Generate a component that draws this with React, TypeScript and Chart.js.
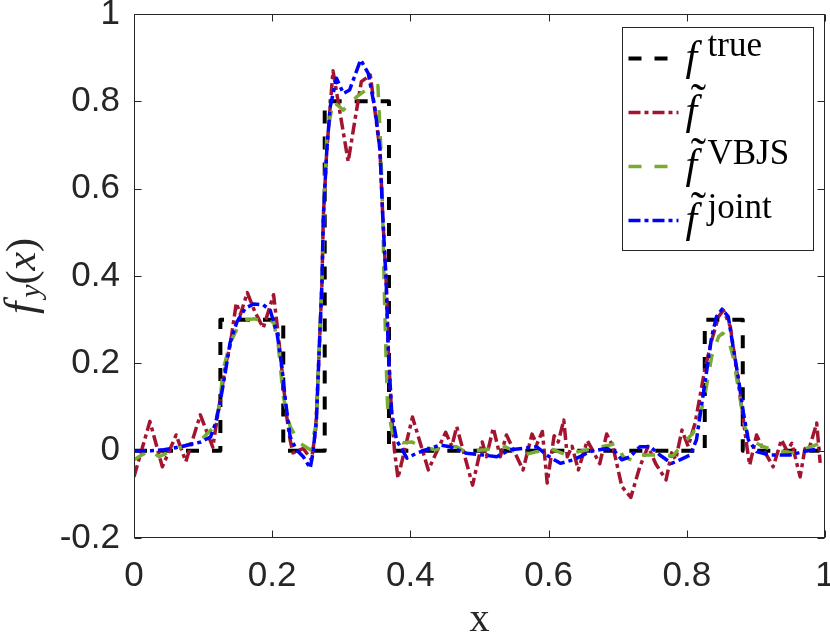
import { useEffect, useRef } from "react"
import { Chart, registerables } from "chart.js"

Chart.register(...registerables)

// tick values
const xTicks = [0, 0.2, 0.4, 0.6, 0.8, 1]
const yTicks = [-0.2, 0, 0.2, 0.4, 0.6, 0.8, 1]

// f^true (piecewise constant)
const trueX = [0, 0.125, 0.125, 0.216, 0.216, 0.276, 0.276, 0.369, 0.369, 0.826, 0.826, 0.881, 0.881, 0.992]
const trueY = [0, 0, 0.3, 0.3, 0, 0, 0.8, 0.8, 0, 0, 0.3, 0.3, 0, 0]

// f~ (noisy reconstruction)
const rawX = [
  0, 0.023, 0.041, 0.061, 0.075, 0.096, 0.114, 0.12, 0.127, 0.133, 0.139, 0.148, 0.154, 0.164,
  0.175, 0.187, 0.202, 0.208, 0.216, 0.221, 0.226, 0.23, 0.245, 0.257, 0.263, 0.268, 0.272,
  0.274, 0.279, 0.288, 0.31, 0.32, 0.329, 0.342, 0.356, 0.36, 0.365, 0.368, 0.373, 0.377,
  0.382, 0.403, 0.426, 0.451, 0.460, 0.467, 0.49, 0.504, 0.51, 0.52, 0.53, 0.539, 0.563,
  0.576, 0.583, 0.591, 0.598, 0.608, 0.614, 0.622, 0.627, 0.634, 0.643, 0.656, 0.664, 0.674,
  0.684, 0.693, 0.706, 0.719, 0.732, 0.744, 0.755, 0.77, 0.778, 0.784, 0.793, 0.802, 0.812,
  0.819, 0.826, 0.836, 0.846, 0.853, 0.863, 0.872, 0.88, 0.887, 0.891, 0.901, 0.91, 0.925,
  0.937, 0.945, 0.952, 0.964, 0.971, 0.978, 0.988, 0.993,
]
const rawY = [
  -0.06, 0.067, -0.037, 0.036, -0.025, 0.082, 0.008, 0.07, 0.14, 0.2, 0.24, 0.338, 0.312, 0.362,
  0.318, 0.281, 0.357, 0.276, 0.155, 0.078, 0.024, -0.005, 0.005, -0.021, 0.05, 0.23, 0.384,
  0.536, 0.688, 0.87, 0.662, 0.76, 0.845, 0.86, 0.688, 0.536, 0.384, 0.23, 0.078, 0.0,
  -0.063, 0.077, -0.044, 0.042, 0.01, 0.055, -0.079, 0.02, -0.014, 0.052, -0.014, 0.036, -0.044,
  0.038, 0.015, 0.044, -0.074, 0.034, 0.02, 0.07, -0.014, 0.01, -0.044, 0.023, 0.0, -0.03,
  0.038, 0.01, -0.082, -0.107, -0.037, 0.01, -0.03, -0.067, -0.005, -0.02, 0.047, 0.01, 0.063,
  0.124, 0.185, 0.253, 0.307, 0.322, 0.284, 0.185, 0.093, 0.009, -0.033, 0.036, 0.005, -0.037,
  0.025, 0.0, 0.017, -0.06, 0.005, 0.01, 0.063, -0.028,
]

// f~^VBJS
const vbjsX = [
  0, 0.024, 0.036, 0.058, 0.077, 0.097, 0.116, 0.124, 0.129, 0.139, 0.153, 0.163, 0.175, 0.187,
  0.202, 0.209, 0.216, 0.226, 0.24, 0.255, 0.264, 0.268, 0.272, 0.275, 0.279, 0.288, 0.303,
  0.322, 0.339, 0.353, 0.357, 0.36, 0.362, 0.365, 0.367, 0.375, 0.389, 0.402, 0.416, 0.436,
  0.45, 0.467, 0.479, 0.508, 0.537, 0.563, 0.588, 0.602, 0.626, 0.641, 0.665, 0.689, 0.698,
  0.708, 0.723, 0.732, 0.761, 0.78, 0.795, 0.809, 0.824, 0.836, 0.846, 0.852, 0.86, 0.867,
  0.875, 0.884, 0.891, 0.911, 0.93, 0.959, 0.973, 0.993,
]
const vbjsY = [
  -0.021, 0.002, -0.014, 0.002, 0.013, 0.025, 0.055, 0.108, 0.185, 0.246, 0.292, 0.3, 0.302, 0.295,
  0.295, 0.238, 0.124, 0.055, 0.017, 0.002, 0.063, 0.23, 0.384, 0.56, 0.72, 0.8, 0.78,
  0.81, 0.83, 0.836, 0.7, 0.536, 0.38, 0.2, 0.1, 0.032, 0.018, 0.02, 0.009, 0.002,
  0.01, 0.009, -0.002, 0.002, 0.009, -0.01, 0.0, 0.005, -0.01, -0.003, 0.005, 0.013, 0.017,
  -0.014, -0.023, -0.01, -0.01, -0.012, 0.017, 0.04, 0.108, 0.215, 0.261, 0.269, 0.257, 0.215,
  0.139, 0.055, 0.025, 0.009, 0.0, -0.006, 0.005, 0.017,
]

// f~^joint
const jointX = [
  0, 0.024, 0.043, 0.068, 0.097, 0.111, 0.118, 0.124, 0.132, 0.139, 0.149, 0.161, 0.173, 0.187,
  0.197, 0.207, 0.214, 0.219, 0.226, 0.235, 0.245, 0.255, 0.259, 0.264, 0.268, 0.272, 0.274,
  0.279, 0.284, 0.293, 0.303, 0.312, 0.328, 0.339, 0.349, 0.356, 0.36, 0.365, 0.368, 0.373,
  0.38, 0.395, 0.409, 0.428, 0.443, 0.457, 0.481, 0.506, 0.525, 0.544, 0.583, 0.597, 0.617,
  0.636, 0.66, 0.684, 0.696, 0.706, 0.718, 0.732, 0.747, 0.761, 0.778, 0.79, 0.805, 0.814,
  0.821, 0.829, 0.836, 0.843, 0.851, 0.86, 0.867, 0.875, 0.882, 0.889, 0.901, 0.92, 0.949,
  0.969, 0.993,
]
const jointY = [
  0, 0, 0.002, 0.009, 0.02, 0.032, 0.063, 0.105, 0.178, 0.247, 0.295, 0.326, 0.336, 0.334,
  0.322, 0.269, 0.192, 0.116, 0.032, 0.002, -0.014, -0.04, -0.005, 0.07, 0.23, 0.384, 0.536,
  0.688, 0.788, 0.853, 0.818, 0.826, 0.895, 0.864, 0.78, 0.689, 0.536, 0.384, 0.23, 0.086,
  0.024, -0.017, -0.006, 0.005, 0.013, 0.009, -0.006, -0.01, -0.014, 0.002, 0.009, -0.01, -0.029,
  -0.021, -0.002, 0.005, -0.002, -0.021, -0.014, 0.009, 0.009, -0.01, -0.029, -0.021, -0.01, 0.025,
  0.1, 0.185, 0.261, 0.307, 0.324, 0.307, 0.238, 0.162, 0.086, 0.025, -0.002, -0.01, -0.01,
  -0.002, 0.005,
]

const AXIS = "#262626"
const SANS = '"Liberation Sans", Arial, sans-serif'
const SERIF = '"Liberation Serif", "Times New Roman", serif'

const pts = (xs: number[], ys: number[]) => xs.map((x, i) => ({ x, y: ys[i] }))

const legendItems = [
  { sup: "true", tilde: false, color: "#000000", width: 4, dash: [13, 13] },
  { sup: "", tilde: true, color: "#A2142F", width: 3.5, dash: [12, 4, 4, 4] },
  { sup: "VBJS", tilde: true, color: "#77AC30", width: 3.5, dash: [13, 13] },
  { sup: "joint", tilde: true, color: "#0000FF", width: 3.5, dash: [12, 4, 4, 4] },
]

const framePlugin = {
  id: "frame",
  afterDraw(chart: any) {
    const { ctx, chartArea: a, scales } = chart
    const L = Math.round(a.left) + 0.5
    const R = Math.round(a.right) - 0.5
    const T = Math.round(a.top) + 0.5
    const B = Math.round(a.bottom) - 0.5
    ctx.save()
    ctx.strokeStyle = AXIS
    ctx.lineWidth = 1
    ctx.setLineDash([])
    ctx.strokeRect(L, T, R - L, B - T)
    ctx.beginPath()
    xTicks.forEach((v) => {
      const px = Math.round(scales.x.getPixelForValue(v)) + 0.5
      ctx.moveTo(px, B); ctx.lineTo(px, B - 7)
      ctx.moveTo(px, T); ctx.lineTo(px, T + 7)
    })
    yTicks.forEach((v) => {
      const py = Math.round(scales.y.getPixelForValue(v)) + 0.5
      ctx.moveTo(L, py); ctx.lineTo(L + 7, py)
      ctx.moveTo(R, py); ctx.lineTo(R - 7, py)
    })
    ctx.stroke()
    ctx.restore()
  },
}

const legendPlugin = {
  id: "mathLegend",
  afterDraw(chart: any) {
    const { ctx, chartArea: a } = chart
    const bx = Math.round(a.right) - 203 + 0.5
    const by = Math.round(a.top) + 13 + 0.5
    ctx.save()
    ctx.fillStyle = "#ffffff"
    ctx.fillRect(bx, by, 191, 223)
    ctx.strokeStyle = AXIS
    ctx.lineWidth = 1
    ctx.strokeRect(bx, by, 191, 223)
    legendItems.forEach((it, i) => {
      const ly = by + 31 + i * 54
      const lx = bx + 6
      ctx.strokeStyle = it.color
      ctx.lineWidth = it.width
      ctx.setLineDash(it.dash)
      ctx.beginPath()
      ctx.moveTo(lx, ly)
      ctx.lineTo(lx + 50, ly)
      ctx.stroke()
      ctx.setLineDash([])
      ctx.fillStyle = "#000000"
      ctx.textAlign = "left"
      ctx.textBaseline = "alphabetic"
      ctx.font = `italic 42px ${SERIF}`
      const fx = bx + 63
      ctx.fillText("f", fx, ly + 11)
      if (it.tilde) {
        ctx.font = `46px ${SERIF}`
        ctx.textAlign = "center"
        const m = ctx.measureText("\u02DC")
        const off = (m.actualBoundingBoxAscent - m.actualBoundingBoxDescent) / 2
        ctx.fillText("\u02DC", fx + 13, ly - 26 + off)
        ctx.textAlign = "left"
      }
      if (it.sup) {
        ctx.font = `35px ${SERIF}`
        ctx.fillText(it.sup, fx + 22, ly - 3)
      }
    })
    ctx.restore()
  },
}

const titlePlugin = {
  id: "axisTitles",
  afterDraw(chart: any) {
    const { ctx, chartArea: a } = chart
    ctx.save()
    ctx.fillStyle = AXIS
    ctx.textBaseline = "alphabetic"
    ctx.textAlign = "center"
    ctx.font = `40px ${SERIF}`
    ctx.fillText("x", (a.left + a.right) / 2, 631)

    // y title: f_y(x), rotated
    ctx.translate(35, (a.top + a.bottom) / 2)
    ctx.rotate(-Math.PI / 2)
    ctx.textAlign = "left"
    const parts = [
      { t: "f", font: `italic 44px ${SERIF}`, dy: 0 },
      { t: "y", font: `italic 30px ${SERIF}`, dy: 5 },
      { t: "(", font: `42px ${SERIF}`, dy: 0 },
      { t: "x", font: `italic 42px ${SERIF}`, dy: 0 },
      { t: ")", font: `42px ${SERIF}`, dy: 0 },
    ]
    const widths = parts.map((p) => {
      ctx.font = p.font
      return ctx.measureText(p.t).width + (p.t === "f" ? 4 : 0)
    })
    const total = widths.reduce((s, w) => s + w, 0)
    let x = -total / 2
    parts.forEach((p, i) => {
      ctx.font = p.font
      ctx.fillText(p.t, x, p.dy)
      x += widths[i]
    })
    ctx.restore()
  },
}

export default function App() {
  const chartRef = useRef<HTMLCanvasElement>(null)
  const chartInstance = useRef<Chart | null>(null)

  useEffect(() => {
    if (!chartRef.current) return
    if (chartInstance.current) chartInstance.current.destroy()
    const ctx = chartRef.current.getContext("2d")
    if (!ctx) return

    const ds = (label: string, xs: number[], ys: number[], idx: number, order: number) => ({
      label,
      data: pts(xs, ys),
      borderColor: legendItems[idx].color,
      borderWidth: legendItems[idx].width,
      borderDash: legendItems[idx].dash,
      borderCapStyle: "butt" as const,
      borderJoinStyle: "round" as const,
      pointRadius: 0,
      tension: 0,
      fill: false,
      order,
    })

    chartInstance.current = new Chart(ctx, {
      type: "line",
      data: {
        datasets: [
          ds("f true", trueX, trueY, 0, 4),
          ds("f tilde", rawX, rawY, 1, 3),
          ds("f tilde VBJS", vbjsX, vbjsY, 2, 2),
          ds("f tilde joint", jointX, jointY, 3, 1),
        ],
      },
      options: {
        animation: false,
        responsive: false,
        devicePixelRatio: 1,
        layout: { padding: { top: 14, right: 5, left: 0, bottom: 0 } },
        plugins: {
          legend: { display: false },
          tooltip: { enabled: false },
        },
        scales: {
          x: {
            type: "linear",
            min: 0,
            max: 1,
            grid: { display: false, drawTicks: false },
            border: { display: false },
            ticks: {
              color: AXIS,
              font: { family: SANS, size: 35 },
              padding: 17,
              maxRotation: 0,
              autoSkip: false,
              callback: (v: any) => String(v),
            },
            afterBuildTicks: (s: any) => {
              s.ticks = xTicks.map((value) => ({ value }))
            },
            afterFit: (s: any) => {
              s.height = 99
              s.paddingLeft = 0
              s.paddingRight = 0
            },
          },
          y: {
            type: "linear",
            min: -0.2,
            max: 1,
            grid: { display: false, drawTicks: false },
            border: { display: false },
            ticks: {
              color: AXIS,
              font: { family: SANS, size: 35 },
              padding: 14,
              autoSkip: false,
              callback: (v: any) => String(v),
            },
            afterBuildTicks: (s: any) => {
              s.ticks = yTicks.map((value) => ({ value }))
            },
            afterFit: (s: any) => {
              s.width = 134
              s.paddingTop = 0
              s.paddingBottom = 0
            },
          },
        },
      },
      plugins: [framePlugin, legendPlugin, titlePlugin],
    })

    return () => {
      if (chartInstance.current) {
        chartInstance.current.destroy()
        chartInstance.current = null
      }
    }
  }, [])

  return (
    <div style={{ position: "absolute", left: 0, top: 0, width: 830, height: 637, background: "#fff" }}>
      <canvas ref={chartRef} width={830} height={637} style={{ display: "block" }} />
    </div>
  )
}
